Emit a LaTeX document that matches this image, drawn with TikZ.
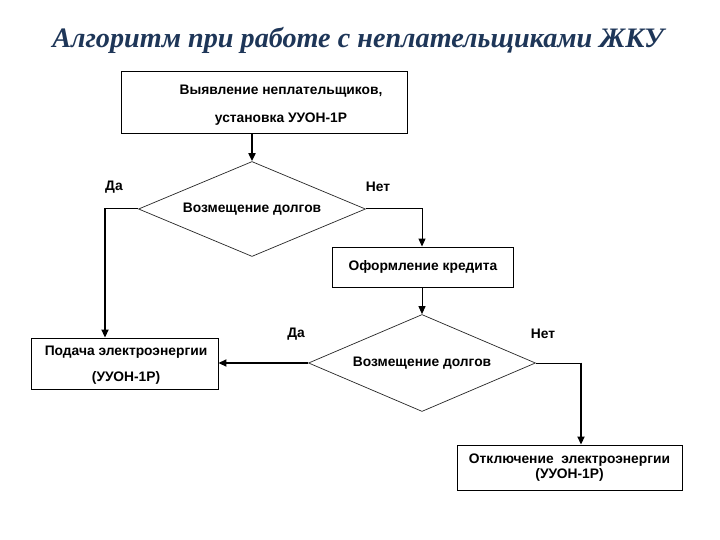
\documentclass[tikz,border=0pt]{standalone}
\usepackage{fontspec}
\setmainfont{Liberation Sans}
\newfontfamily\titlefont{Liberation Serif}
\usetikzlibrary{shapes.geometric,arrows.meta}
\definecolor{titleblue}{RGB}{30,54,88}
\begin{document}
\begin{tikzpicture}[x=1pt,y=-1pt,
  box/.style={draw,line width=0.9pt,inner sep=0pt},
  dec/.style={draw=black!85,line width=0.7pt,diamond,aspect=2.36,inner sep=0pt},
  txt/.style={font=\fontsize{13.8}{16}\selectfont\bfseries,inner sep=0pt,align=center},
  thinline/.style={line width=1pt},
  thickarrow/.style={line width=1.8pt,-{Triangle[length=8pt,width=7pt]}},
  thinarrow/.style={line width=1pt,-{Triangle[length=8pt,width=7pt]}}]
\useasboundingbox (0,0) rectangle (720,540);
\fill[white] (0,0) rectangle (720,540);
% title
\node[font=\titlefont\fontsize{28.2}{31}\selectfont\bfseries\itshape,text=titleblue,anchor=base,inner sep=0pt] (title) at (358,48) {Алгоритм при работе с неплательщиками ЖКУ};
% boxes
\node[box,minimum width=286pt,minimum height=62pt] (detect) at (264,102) {};
\node[txt] (detecttxt) at (281,105) {Выявление неплательщиков,\\[12pt]установка УУОН-1Р};
\node[dec,minimum width=227pt,minimum height=95pt,txt] (d1) at (252,209) {\raisebox{2pt}{Возмещение долгов}};
\node[box,minimum width=181pt,minimum height=40pt,txt] (credit) at (423,267) {Оформление кредита};
\node[dec,minimum width=227pt,minimum height=97pt,txt] (d2) at (422,363) {Возмещение долгов};
\node[box,minimum width=187pt,minimum height=51pt] (supply) at (124.5,363.5) {};
\node[txt] (supplytxt) at (126,365.5) {Подача электроэнергии\\[10pt](УУОН-1Р)};
\node[box,minimum width=225pt,minimum height=45pt,txt] (cut) at (569.5,467.5) {Отключение\ \ электроэнергии\\[-1pt](УУОН-1Р)};
% labels
\node[txt] (da1) at (114,187) {Да};
\node[txt] (net1) at (378,187) {Нет};
\node[txt] (da2) at (296,334) {Да};
\node[txt] (net2) at (543,334) {Нет};
% connector corners
\coordinate (c1) at (105,209);
\coordinate (c2) at (422,209);
\coordinate (c3) at (581,363);
% connectors
\draw[thickarrow] (detect.south -| d1.north) -- (d1.north);
\draw[thinline] (d1.west) -- ([xshift=-0.5pt]c1);
\draw[thickarrow] ([yshift=0.5pt]c1) -- (supply.north -| c1);
\draw[thinline] (d1.east) -- ([xshift=0.5pt]c2);
\draw[thinarrow] ([yshift=0.5pt]c2) -- (credit.north -| c2);
\draw[thinarrow] (credit.south -| d2.north) -- (d2.north);
\draw[thickarrow] (d2.west) -- (supply.east |- d2.west);
\draw[thinline] (d2.east) -- ([xshift=0.5pt]c3);
\draw[thickarrow] ([yshift=0.5pt]c3) -- (cut.north -| c3);
\end{tikzpicture}
\end{document}
